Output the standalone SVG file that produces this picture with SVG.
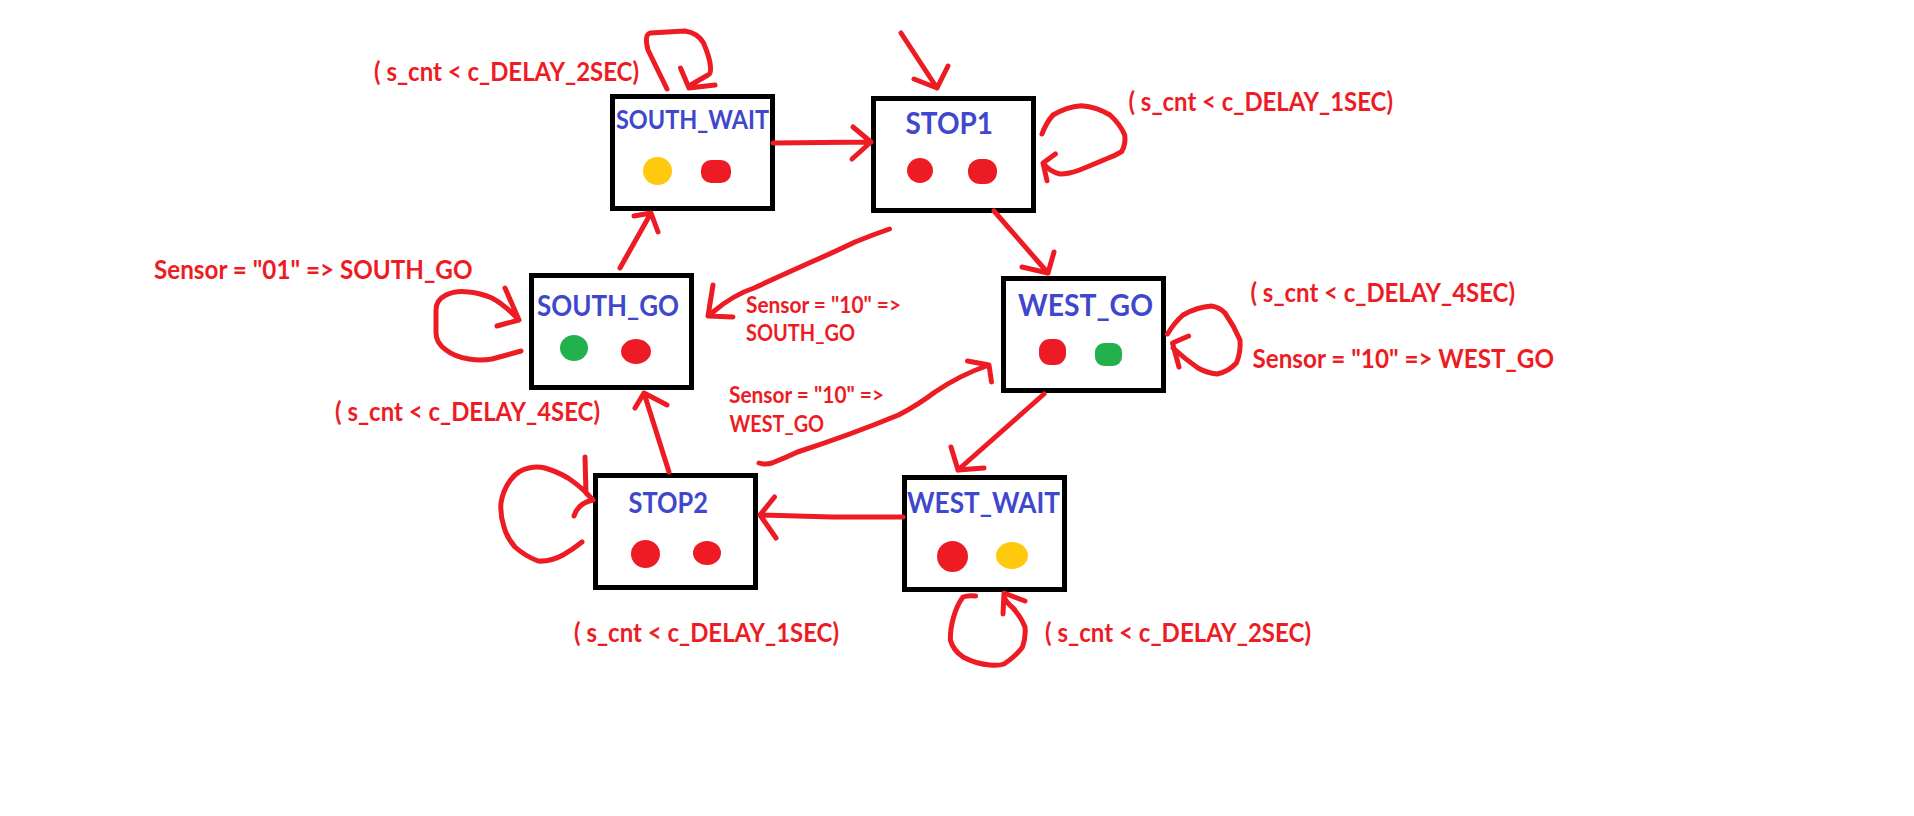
<svg xmlns="http://www.w3.org/2000/svg" width="1914" height="816" viewBox="0 0 1914 816">
<style>
.box{fill:#fff;stroke:#000;stroke-width:5}
.e{fill:none;stroke:#ed1c24;stroke-width:5;stroke-linecap:round;stroke-linejoin:round}
.t{font-family:Lato,"Open Sans","Liberation Sans",sans-serif;font-weight:700;fill:#3f48cc}
.l{font-family:Lato,"Open Sans","Liberation Sans",sans-serif;font-weight:700;fill:#ed1c24;font-size:26px}
.s{font-size:22px}
.r{fill:#ed1c24}.y{fill:#ffc90e}.g{fill:#22b14c}
</style>
<rect width="1914" height="816" fill="#fff"/>
<g id="SOUTH_WAIT"><rect class="box" x="612.5" y="96.5" width="160" height="112"/><text class="t" x="616" y="129" font-size="26" textLength="153" lengthAdjust="spacingAndGlyphs">SOUTH_WAIT</text><ellipse class="y" cx="657.5" cy="171" rx="14.5" ry="14"/><rect class="r" x="701" y="160" width="30" height="23" rx="10"/></g>
<g id="STOP1"><rect class="box" x="873.5" y="98.5" width="160" height="112"/><text class="t" x="905.5" y="134" font-size="30" textLength="87.5" lengthAdjust="spacingAndGlyphs">STOP1</text><ellipse class="r" cx="920" cy="170.500" rx="13" ry="12.500"/><rect class="r" x="968" y="159" width="29" height="25" rx="12"/></g>
<g id="SOUTH_GO"><rect class="box" x="531.5" y="275.5" width="160" height="112"/><text class="t" x="537" y="316" font-size="28" textLength="142" lengthAdjust="spacingAndGlyphs">SOUTH_GO</text><ellipse class="g" cx="574" cy="348" rx="14" ry="13"/><ellipse class="r" cx="636" cy="351.500" rx="15" ry="12.500"/></g>
<g id="WEST_GO"><rect class="box" x="1003.5" y="278.5" width="160" height="112"/><text class="t" x="1018" y="316" font-size="30" textLength="135" lengthAdjust="spacingAndGlyphs">WEST_GO</text><rect class="r" x="1039" y="339" width="27" height="26" rx="11"/><rect class="g" x="1095" y="343" width="27" height="23" rx="9"/></g>
<g id="STOP2"><rect class="box" x="595.5" y="475.5" width="160" height="112"/><text class="t" x="628.5" y="512.7" font-size="28" textLength="79.5" lengthAdjust="spacingAndGlyphs">STOP2</text><ellipse class="r" cx="645.5" cy="554" rx="14.5" ry="14"/><ellipse class="r" cx="707" cy="553" rx="14" ry="12"/></g>
<g id="WEST_WAIT"><rect class="box" x="904.5" y="477.5" width="160" height="112"/><text class="t" x="907" y="513" font-size="28" textLength="153" lengthAdjust="spacingAndGlyphs">WEST_WAIT</text><ellipse class="r" cx="952.5" cy="556.5" rx="15.5" ry="15.5"/><ellipse class="y" cx="1012" cy="555.5" rx="16" ry="13.500"/></g>
<g id="connectors">
<path class="e" d="M667 89L648 50Q644 35 650 33L685 31Q698 33 703.500 43Q710 58 710.500 67Q711 74 708 75L694 83Q689 85 689 88M680.500 68L689 88L715 85"/>
<path class="e" d="M901 33L937 88M914 79L937 88L948 66"/>
<path class="e" d="M773 143L871 142M853 127L871 142L852 159"/>
<path class="e" d="M889.500 229Q872 235 855 242Q830 254 809 263Q780 276 754 288Q733 295 713 312M713 285L708 316L733 317"/>
<path class="e" d="M994 211L1048 273M1022 267L1048 273L1054 252"/>
<path class="e" d="M620 268L651 213M634 216L651 213L658 232"/>
<path class="e" d="M521 351L492 359Q480 361 469 359Q455 357 446 350Q436 343 436 333L436 310Q436 300 446 295Q456 290 469 292Q480 293 492 298Q505 305 519 320M505 288L519 320L497 326"/>
<path class="e" d="M669 472L644 393M635 408L644 393L667 405"/>
<path class="e" d="M759 463Q765 465 772 463Q785 458 797.500 452Q850 435 898.500 415Q918 405 935 392Q960 375 989 365M967.500 361L989 365L991.500 382"/>
<path class="e" d="M1044 394L958 470M951 447L958 470L984 468"/>
<path class="e" d="M903 517L832 517L760 515M774.500 497L760 515L776 538"/>
<path class="e" d="M582 542Q572 550 563 555Q550 562 538 561Q525 556 515 547Q507 538 504 527Q500 515 501 503Q503 490 510.500 480Q518 470 529 468Q537 466 545 468Q558 472 568 478Q583 488 593 500M585 457L586 493L593 500Q578 503 574 516"/>
<path class="e" d="M975.600 596Q968 595 963 597Q957 605 953.600 617Q950 630 950.400 640Q953 650 963 657Q976 664 990 665Q998 666 1004 664Q1016 656 1022.500 647Q1026 637 1025 627Q1021 617 1013 608Q1006 602 1004 597M1003 614L1004 593L1025 601"/>
<path class="e" d="M1042 134Q1046 123 1053 115Q1066 107 1081.400 105.700Q1097 107 1110 115Q1120 124 1124.700 135Q1126 144 1121.600 151.700Q1115 156 1106 159Q1092 165 1079.500 170Q1069 174 1060 174Q1050 172 1043 163M1055.400 154L1043 163L1047 180.700"/>
<path class="e" d="M1167.500 334Q1174 323 1183 315Q1197 307 1211.500 306Q1219 307 1225 313Q1234 326 1240 340Q1241 352 1236.400 363Q1228 372 1217 374Q1207 373 1198 368Q1185 359 1173 348M1188.600 336L1172.500 343L1179 367"/>
</g>
<g id="labels">
<text class="l" x="374" y="81" textLength="265" lengthAdjust="spacingAndGlyphs">( s_cnt &lt; c_DELAY_2SEC)</text>
<text class="l" x="1128.500" y="110.700" textLength="264.500" lengthAdjust="spacingAndGlyphs">( s_cnt &lt; c_DELAY_1SEC)</text>
<text class="l" x="1250.500" y="301.700" textLength="264.500" lengthAdjust="spacingAndGlyphs">( s_cnt &lt; c_DELAY_4SEC)</text>
<text class="l" x="1252.500" y="368" textLength="301.500" lengthAdjust="spacingAndGlyphs">Sensor = "10" =&gt; WEST_GO</text>
<text class="l" x="335" y="420.700" textLength="265" lengthAdjust="spacingAndGlyphs">( s_cnt &lt; c_DELAY_4SEC)</text>
<text class="l" x="574" y="641.700" textLength="265" lengthAdjust="spacingAndGlyphs">( s_cnt &lt; c_DELAY_1SEC)</text>
<text class="l" x="1045" y="641.700" textLength="266" lengthAdjust="spacingAndGlyphs">( s_cnt &lt; c_DELAY_2SEC)</text>
<text class="l" x="154" y="279" textLength="318.500" lengthAdjust="spacingAndGlyphs">Sensor = "01" =&gt; SOUTH_GO</text>
<text class="l s" x="746" y="312.700" textLength="155" lengthAdjust="spacingAndGlyphs">Sensor = "10" =&gt;</text>
<text class="l s" x="746" y="340.700" textLength="109" lengthAdjust="spacingAndGlyphs">SOUTH_GO</text>
<text class="l s" x="729" y="403" textLength="155" lengthAdjust="spacingAndGlyphs">Sensor = "10" =&gt;</text>
<text class="l s" x="729.500" y="431.700" textLength="94.500" lengthAdjust="spacingAndGlyphs">WEST_GO</text>
</g>
</svg>
